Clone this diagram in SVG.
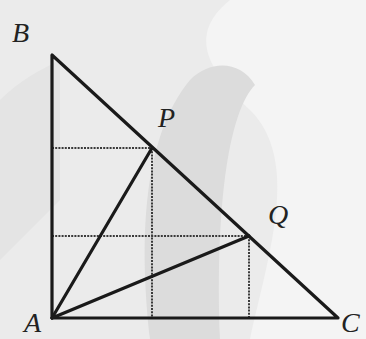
<svg xmlns="http://www.w3.org/2000/svg" width="366" height="339" viewBox="0 0 366 339">
<style>
.solid{stroke:#1a1a1a;stroke-width:3.2;fill:none;stroke-linecap:round;stroke-linejoin:round}
.dot{stroke:#3a3a3a;stroke-width:2;fill:none;stroke-dasharray:2 1.2}
.lbl{font-family:"Liberation Serif",serif;font-style:italic;font-size:28px;fill:#222}
</style>
<rect width="366" height="339" fill="#ebebeb"/>
<path d="M230 0 H366 V339 H250 C270 250 300 160 250 110 C220 80 180 40 230 0 Z" fill="#f4f4f4"/>
<path d="M150 339 C140 250 140 140 190 80 C210 60 240 60 255 85 C230 110 215 200 220 339 Z" fill="#dcdcdc"/>
<path d="M0 100 C20 80 40 70 60 60 L60 200 C40 220 20 240 0 260 Z" fill="#e4e4e4"/>
<g id="connectors">
<line class="dot" x1="52" y1="148" x2="152" y2="148"/>
<line class="dot" x1="152" y1="148" x2="152" y2="318"/>
<line class="dot" x1="52" y1="236" x2="249" y2="236"/>
<line class="dot" x1="249" y1="236" x2="249" y2="318"/>
<polyline class="solid" points="52,55 52,318 338,318 52,55"/>
<line class="solid" x1="52" y1="318" x2="152" y2="148"/>
<line class="solid" x1="52" y1="318" x2="249" y2="236"/>
</g>
<g id="B"><text class="lbl" x="12" y="42">B</text></g>
<g id="P"><text class="lbl" x="158" y="127">P</text></g>
<g id="Q"><text class="lbl" x="268" y="224">Q</text></g>
<g id="C"><text class="lbl" x="341" y="332">C</text></g>
<g id="A"><text class="lbl" x="24" y="332">A</text></g>
</svg>
